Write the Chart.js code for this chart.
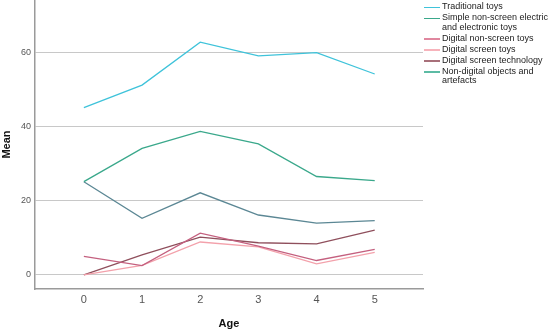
<!DOCTYPE html>
<html>
<head>
<meta charset="utf-8">
<script src="https://cdn.jsdelivr.net/npm/chart.js@4.4.0/dist/chart.umd.min.js"></script>
<style>
  body { margin: 0; background: #fff; }
  #wrap { position: relative; width: 550px; height: 331px; }
  #legend { position: absolute; left: 424px; top: 2px; font-family: "Liberation Sans", Arial, sans-serif; font-size: 9px; color: #222; line-height: 9.5px; white-space: nowrap; }
  #legend .item { display: flex; align-items: flex-start; margin-bottom: 1.5px; }
  #legend .sw { display: block; width: 16px; height: 1.5px; margin-top: 4.5px; margin-right: 2px; flex: none; }
</style>
</head>
<body>
<div id="wrap">
  <canvas id="chart_age" width="550" height="331"></canvas>
  <div id="legend"></div>
</div>
<script>
// data
var ages = [0, 1, 2, 3, 4, 5]
var traditionalToys = [45.2, 51.3, 62.9, 59.2, 60.1, 54.3]
var simpleNonScreen = [25.2, 34.2, 38.8, 35.4, 26.6, 25.5]
var digitalNonScreen = [5.0, 2.5, 11.3, 7.8, 3.9, 6.9]
var digitalScreenToys = [0.0, 2.6, 8.9, 7.6, 3.0, 6.1]
var digitalScreenTech = [0.0, 5.4, 10.2, 8.7, 8.4, 12.1]
var nonDigitalObjects = [25.2, 15.3, 22.2, 16.2, 14.0, 14.7]
var yTicks = [0, 20, 40, 60]

var seriesNames = ['Traditional toys', 'Simple non-screen electric and electronic toys', 'Digital non-screen toys', 'Digital screen toys', 'Digital screen technology', 'Non-digital objects and artefacts']
var legendText = ['Traditional toys', 'Simple non-screen electric<br>and electronic toys', 'Digital non-screen toys', 'Digital screen toys', 'Digital screen technology', 'Non-digital objects and<br>artefacts']
var seriesValues = [traditionalToys, simpleNonScreen, digitalNonScreen, digitalScreenToys, digitalScreenTech, nonDigitalObjects]
var seriesColors = ['#3fc3da', '#3aa88b', '#c4607f', '#f3a1ab', '#8f4f5c', '#5b8794']
var legendColors = ['#3fc3da', '#3aa88b', '#e0879f', '#f7b3bb', '#a8707a', '#5cbba4']

var datasets = []
seriesNames.forEach(function(name, i) {
    datasets.push({
        label: name,
        data: ages.map(function(a, j) { return {x: a, y: seriesValues[i][j]} }),
        borderColor: seriesColors[i],
        borderWidth: 1.3,
        pointRadius: 0,
        tension: 0,
        fill: false
    })
})

// html legend so the wrapped labels stay text
var lg = document.getElementById('legend')
seriesNames.forEach(function(name, i) {
    lg.innerHTML += '<div class="item"><span class="sw" style="background:' + legendColors[i] + '"></span><span>' + legendText[i] + '</span></div>'
})

var ctx = document.getElementById('chart_age').getContext('2d')
var myChart = new Chart(ctx, {
    type: 'line',
    data: { datasets: datasets },
    options: {
        responsive: false,
        animation: false,
        layout: { padding: { top: 0, right: 127, bottom: 0, left: 0 } },
        plugins: { legend: { display: false }, tooltip: { enabled: false } },
        scales: {
            x: {
                type: 'linear',
                min: -0.84,
                max: 5.83,
                afterBuildTicks: function(s) { s.ticks = ages.map(function(v) { return {value: v} }) },
                afterFit: function(s) { s.height = 42; s.paddingLeft = 0; s.paddingRight = 0 },
                grid: { display: false, drawTicks: false },
                border: { color: '#9a9a9a', width: 1.5 },
                ticks: { color: '#555', font: { family: 'Liberation Sans', size: 11 }, padding: 4 },
                title: { display: true, text: 'Age', color: '#111', font: { family: 'Liberation Sans', size: 11, weight: 'bold' }, padding: { top: 2, bottom: 0 } }
            },
            y: {
                min: -3.8,
                max: 74.3,
                afterBuildTicks: function(s) { s.ticks = yTicks.map(function(v) { return {value: v} }) },
                afterFit: function(s) { s.width = 35; s.paddingTop = 0; s.paddingBottom = 0 },
                grid: { color: '#c8c8c8', lineWidth: 1, drawTicks: false },
                border: { color: '#9a9a9a', width: 1.5 },
                ticks: { color: '#555', font: { family: 'Liberation Sans', size: 9 }, padding: 4 },
                title: { display: true, text: 'Mean', color: '#111', font: { family: 'Liberation Sans', size: 11, weight: 'bold' }, padding: { top: 0, bottom: 2 } }
            }
        }
    }
})
</script>
</body>
</html>
